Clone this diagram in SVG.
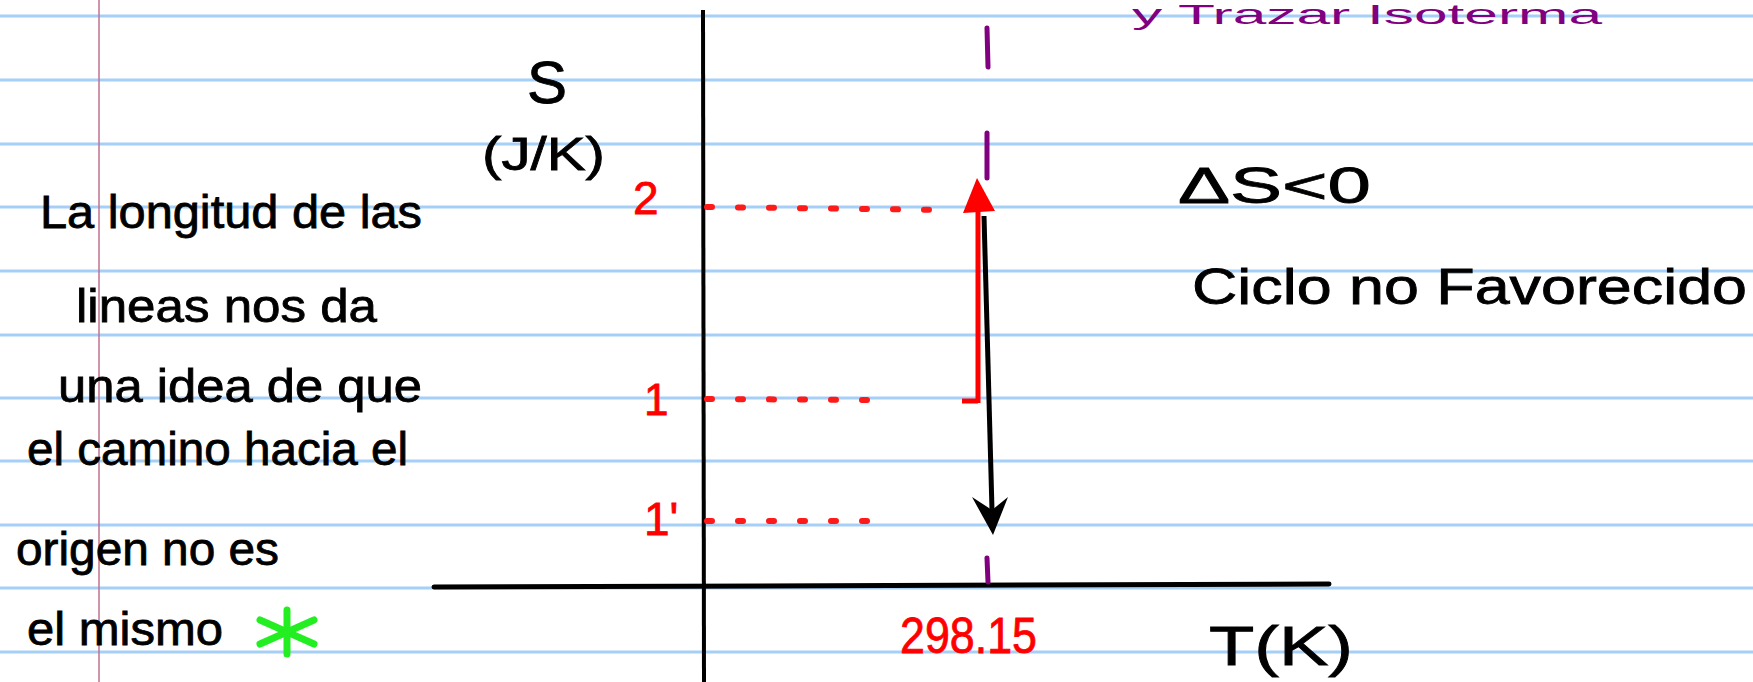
<svg xmlns="http://www.w3.org/2000/svg" width="1753" height="682" viewBox="0 0 1753 682">
<defs>
<style>
.rule{stroke:#a6cff7;stroke-width:3}
.hw{font-family:"Liberation Sans",Arial,sans-serif;fill:#000;stroke:#000;stroke-width:0.8}
.red{fill:#ff0000;stroke:#ff0000}
.dots{stroke:#ff1a1a;stroke-width:6;stroke-linecap:round;stroke-dasharray:5 26;fill:none}
.iso{stroke:#800080;stroke-width:5;stroke-linecap:round}
</style>
</defs>
<rect width="1753" height="682" fill="#ffffff"/>
<g id="paper">
<line class="rule" x1="0" y1="16" x2="1753" y2="16"/>
<line class="rule" x1="0" y1="80" x2="1753" y2="80"/>
<line class="rule" x1="0" y1="144" x2="1753" y2="144"/>
<line class="rule" x1="0" y1="207" x2="1753" y2="207"/>
<line class="rule" x1="0" y1="271" x2="1753" y2="271"/>
<line class="rule" x1="0" y1="335" x2="1753" y2="335"/>
<line class="rule" x1="0" y1="398" x2="1753" y2="398"/>
<line class="rule" x1="0" y1="461" x2="1753" y2="461"/>
<line class="rule" x1="0" y1="525" x2="1753" y2="525"/>
<line class="rule" x1="0" y1="588" x2="1753" y2="588"/>
<line class="rule" x1="0" y1="652" x2="1753" y2="652"/>
<line x1="99" y1="0" x2="99" y2="682" stroke="#c0708f" stroke-width="1.5"/>
</g>
<g id="note">
<text class="hw" font-size="46" x="40" y="228" textLength="382" lengthAdjust="spacingAndGlyphs">La longitud de las</text>
<text class="hw" font-size="46" x="76" y="322" textLength="301" lengthAdjust="spacingAndGlyphs">lineas nos da</text>
<text class="hw" font-size="46" x="58" y="402" textLength="364" lengthAdjust="spacingAndGlyphs">una idea de que</text>
<text class="hw" font-size="46" x="27" y="465" textLength="381" lengthAdjust="spacingAndGlyphs">el camino hacia el</text>
<text class="hw" font-size="46" x="16" y="565" textLength="263" lengthAdjust="spacingAndGlyphs">origen no es</text>
<text class="hw" font-size="46" x="27" y="645" textLength="196" lengthAdjust="spacingAndGlyphs">el mismo</text>
<g id="star" stroke="#22ee22" stroke-width="7" stroke-linecap="round">
<line x1="287" y1="610" x2="287" y2="654"/>
<line x1="260" y1="620" x2="314" y2="644"/>
<line x1="260" y1="644" x2="314" y2="620"/>
</g>
</g>
<g id="axes" stroke="#000" fill="none">
<line x1="703" y1="10" x2="704" y2="682" stroke-width="4"/>
<line x1="434" y1="587" x2="1329" y2="584" stroke-width="5" stroke-linecap="round"/>
</g>
<g id="axis-labels">
<text class="hw" font-size="60" x="547" y="103" text-anchor="middle">S</text>
<text class="hw" font-size="46" x="482" y="170" textLength="123" lengthAdjust="spacingAndGlyphs">(J/K)</text>
<text class="hw" font-size="56" x="1209" y="665" textLength="144" lengthAdjust="spacingAndGlyphs">T(K)</text>
<text class="hw red" font-size="50" x="900" y="653" textLength="137" lengthAdjust="spacingAndGlyphs">298.15</text>
<text class="hw red" font-size="46" x="633" y="214">2</text>
<text class="hw red" font-size="44" x="644" y="415">1</text>
<text class="hw red" font-size="46" x="644" y="535">1'</text>
</g>
<g id="connectors">
<path class="dots" d="M707 207 L950 210"/>
<path class="dots" d="M707 399 L876 400"/>
<path class="dots" d="M707 521 L893 521"/>
<line x1="962" y1="401" x2="978" y2="401" stroke="#ff0000" stroke-width="5"/>
<line class="iso" x1="987" y1="28" x2="988" y2="67"/>
<line class="iso" x1="987" y1="133" x2="987" y2="178"/>
<line class="iso" x1="987" y1="558" x2="988" y2="582"/>
<line x1="978" y1="403" x2="978" y2="205" stroke="#ff0000" stroke-width="5"/>
<polygon points="977,178 963,213 995,211" fill="#ff0000"/>
<line x1="984" y1="216" x2="992" y2="510" stroke="#000" stroke-width="5"/>
<polygon points="972,497 993,535 1008,497 992,510" fill="#000"/>
</g>
<g id="remarks">
<text class="hw" font-size="50" x="1178" y="203" textLength="193" lengthAdjust="spacingAndGlyphs">ΔS&lt;0</text>
<text class="hw" font-size="50" x="1192" y="304" textLength="555" lengthAdjust="spacingAndGlyphs">Ciclo no Favorecido</text>
<text font-family="Liberation Sans, Arial, sans-serif" font-size="28" x="1132" y="24" textLength="470" lengthAdjust="spacingAndGlyphs" fill="#800080">y Trazar Isoterma</text>
</g>
</svg>
